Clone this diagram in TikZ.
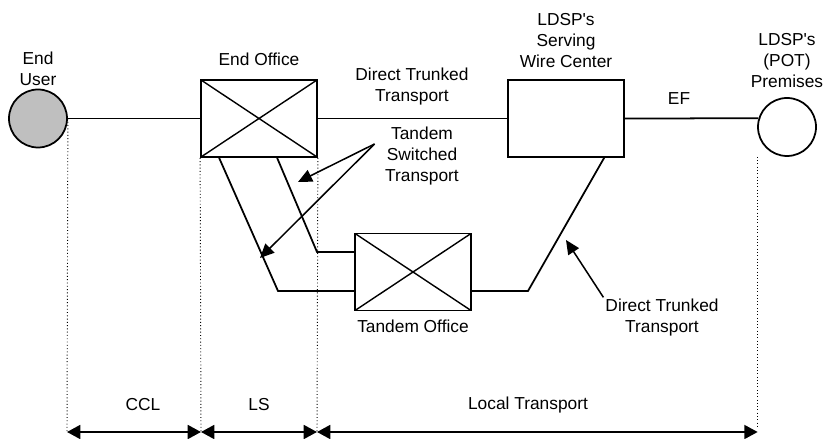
\documentclass[tikz,border=0pt]{standalone}
\usepackage{fontspec}
\setmainfont{Liberation Sans}
\usetikzlibrary{arrows.meta,positioning,calc}

\begin{document}
\begin{tikzpicture}[
    font=\fontsize{14.8}{17.9}\selectfont,
    line width=1.5pt,
    switch/.style={rectangle, draw, minimum width=3.48cm, minimum height=2.31cm, inner sep=0pt,
        path picture={\draw[line width=1.2pt] (path picture bounding box.north west) -- (path picture bounding box.south east)
            (path picture bounding box.south west) -- (path picture bounding box.north east);}},
    office/.style={rectangle, draw, minimum width=3.48cm, minimum height=2.31cm, inner sep=0pt},
    site/.style={circle, draw, minimum size=1.74cm, inner sep=0pt},
    lbl/.style={align=center, inner sep=1pt},
    pointer/.style={-{Triangle[length=0.42cm, width=0.38cm]}, line width=1.3pt},
    span/.style={{Triangle[length=0.4cm, width=0.42cm]}-{Triangle[length=0.4cm, width=0.42cm]}, line width=1.5pt},
    guide/.style={dotted, line width=0.8pt}
]
\useasboundingbox (0,0) rectangle (24.75,13.17);

% Labels
\node[lbl] (EUlab) at (1.14,11.1) {End\\User};
\node[lbl] (EOlab) at (7.77,11.4) {End Office};
\node[lbl] (DTT1) at (12.36,10.56) {Direct Trunked\\Transport};
\node[lbl] (WClab) at (16.98,11.94) {LDSP\textquotesingle s\\Serving\\Wire Center};
\node[lbl] (EF) at (20.37,10.215) {EF};
\node[lbl] (POTlab) at (23.61,11.34) {LDSP\textquotesingle s\\(POT)\\Premises};
\node[lbl] (TST) at (12.66,8.49) {Tandem\\Switched\\Transport};
\node[lbl] (TOlab) at (12.39,3.39) {Tandem Office};
\node[lbl] (DTT2) at (19.86,3.63) {Direct Trunked\\Transport};

% Sites and offices
\node[site, fill=gray!50] (EU) at (1.14,9.615) {};
\node[switch] (EO) at (7.77,9.615) {};
\node[office] (WC) at (16.98,9.615) {};
\node[site, fill=white] (POT) at (23.61,9.36) {};
\node[switch] (Tandem) at (12.39,5.01) {};

% Bend points
\coordinate (k1) at (8.34,4.44);
\coordinate (k2) at (9.51,5.61);
\coordinate (k3) at (15.84,4.44);

% Trunks
\draw (EU) -- (EO);
\draw (EO) -- (WC);
\draw (WC.east) -- (POT.163);
\draw ($(EO.south west)+(0.57,0)$) -- (k1) -- (k1 -| Tandem.west);
\draw ($(EO.south west)+(2.31,0)$) -- (k2) -- (k2 -| Tandem.west);
\draw (k3 -| Tandem.east) -- (k3) -- ($(WC.south west)+(2.91,0)$);

% Pointers
\coordinate (tsp) at ($(TST.west)+(-0.26,0.36)$);
\coordinate (tip1) at (8.94,7.71);
\coordinate (tip2) at (7.80,5.43);
\coordinate (tip3) at (16.98,5.97);
\draw[pointer] (tsp) -- (tip1);
\draw[pointer] (tsp) -- (tip2);
\draw[pointer] (DTT2.north west) -- (tip3);

% Spans
\coordinate (c1) at (2.01,0.21);
\coordinate (c2) at (6.03,0.21);
\coordinate (c3) at (9.51,0.21);
\coordinate (c4) at (22.73,0.21);
\draw[guide] (EU.east) -- (c1);
\draw[guide] (EO.south west) -- (c2);
\draw[guide] (EO.south east) -- (c3);
\draw[guide] (POT.south -| c4) -- ($(c4)+(0,0.15)$);
\draw[span] (c1) -- (c2);
\draw[span] (c2) -- (c3);
\draw[span] (c3) -- (c4);
\node[lbl] (CCL) at (4.29,1.02) {CCL};
\node[lbl] (LS) at (7.77,1.02) {LS};
\node[lbl] (LT) at (15.84,1.02) {Local Transport};

\end{tikzpicture}
\end{document}
